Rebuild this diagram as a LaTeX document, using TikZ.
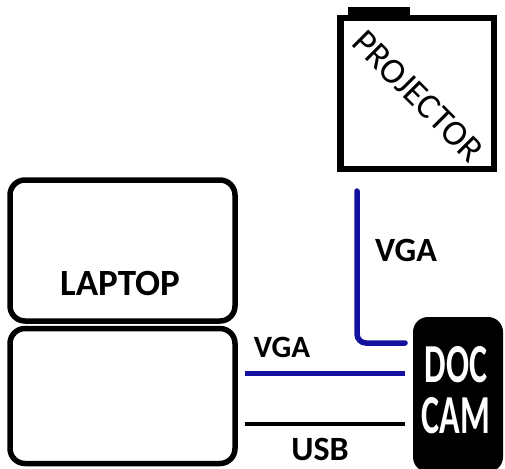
\documentclass[tikz,border=0pt]{standalone}
\usepackage{fontspec}
\setmainfont{Carlito}
\definecolor{vgablue}{RGB}{18,18,158}

\begin{document}
\begin{tikzpicture}[x=1pt,y=-1pt,
  lapbox/.style={draw,line width=5.5pt,rounded corners=15pt,inner sep=0pt},
  lbl/.style={font=\bfseries\fontsize{34}{34}\selectfont},
  vga/.style={draw=vgablue,line width=5.5pt,line cap=round}]
 \clip (0,0) rectangle (505,468);
 % projector
 \fill (348,7) rectangle (410,17);
 \node[draw,line width=6.5pt,inner sep=0pt,minimum width=153.5pt,minimum height=150.5pt] (proj) at (417,93.5) {};
 \node[rotate=-45,font=\fontsize{36}{36}\selectfont] (projtxt) at (418,96) {PROJECTOR};
 % laptop
 \node[lapbox,minimum width=225pt,minimum height=141pt] (screen) at (122.5,250.5) {};
 \node[lapbox,minimum width=225pt,minimum height=135pt] (base) at (122.5,396) {};
 \node[lbl,font=\bfseries\fontsize{37}{37}\selectfont] (laptxt) at (120,283) {LAPTOP};
 % doc cam
 \node[fill,rounded corners=15pt,inner sep=0pt,minimum width=90pt,minimum height=155pt] (doccam) at (458,394.5) {};
 \node[text=white,xscale=0.62,align=center,font=\bfseries\fontsize{55}{51}\selectfont] (camtxt) at (456,390) {DOC\\CAM};
 % cables
 \coordinate (projin) at (357,191);
 \coordinate (camtop) at (405,343);
 \coordinate (lapvga) at (245,373);
 \coordinate (camvga) at (405,373);
 \coordinate (lapusb) at (245,424);
 \coordinate (camusb) at (405,424);
 \draw[vga,rounded corners=9pt] (projin) |- (camtop);
 \draw[vga,line width=5pt,line cap=butt] (lapvga) -- (camvga);
 \draw[line width=3.5pt] (lapusb) -- (camusb);
 \node[lbl] (vgaup) at (406,250) {VGA};
 \node[lbl,font=\bfseries\fontsize{31}{31}\selectfont] (vgalow) at (282,347) {VGA};
 \node[lbl] (usb) at (320,449) {USB};
\end{tikzpicture}
\end{document}
